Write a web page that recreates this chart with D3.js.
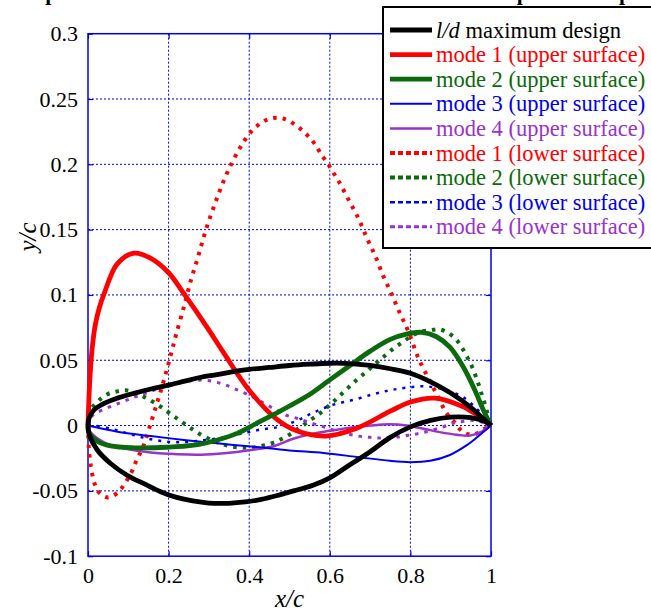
<!DOCTYPE html>
<html>
<head>
<meta charset="utf-8">
<script src="https://cdn.jsdelivr.net/npm/d3@7"></script>
<style>
  body { margin: 0; background: #fff; }
  svg { display: block; font-family: "Liberation Serif", "Times New Roman", Times, serif; }
</style>
</head>
<body>
<svg id="chart" width="651" height="614"></svg>
<script>
'use strict'

/****** DATA ******/

const xTicks = [0, 0.2, 0.4, 0.6, 0.8, 1]
const yTicks = [-0.1, -0.05, 0, 0.05, 0.1, 0.15, 0.2, 0.25, 0.3]
const xTickLabels = ['0', '0.2', '0.4', '0.6', '0.8', '1']
const yTickLabels = ['-0.1', '-0.05', '0', '0.05', '0.1', '0.15', '0.2', '0.25', '0.3']

const ldUpper = [[0,0],[0.003,0.006],[0.015,0.012],[0.04,0.017],[0.073,0.021],[0.114,0.0247],[0.156,0.028],[0.2,0.031],
  [0.24,0.034],[0.28,0.037],[0.32,0.039],[0.36,0.0413],[0.4,0.043],[0.45,0.0445],[0.5,0.046],[0.55,0.047],[0.6,0.0477],
  [0.65,0.0475],[0.7,0.046],[0.75,0.0435],[0.8,0.04],[0.85,0.0335],[0.9,0.025],[0.95,0.014],[0.975,0.007],[1,0]]
const ldLower = [[0,0],[0.003,-0.007],[0.023,-0.0187],[0.056,-0.029],[0.097,-0.038],[0.14,-0.0447],[0.18,-0.0506],
  [0.22,-0.055],[0.26,-0.0577],[0.3,-0.0593],[0.35,-0.0595],[0.39,-0.0585],[0.43,-0.0565],[0.47,-0.0535],[0.51,-0.05],
  [0.56,-0.0455],[0.6,-0.04],[0.64,-0.032],[0.7,-0.02],[0.75,-0.009],[0.8,-0.001],[0.85,0.004],[0.9,0.0065],
  [0.95,0.006],[0.985,0.003],[1,0]]

const mode1Upper = [[0,0],[0.004,0.032],[0.01,0.058],[0.018,0.077],[0.028,0.09],[0.04,0.101],[0.073,0.124],[0.114,0.132],
  [0.156,0.128],[0.2,0.117],[0.238,0.101],[0.296,0.075],[0.336,0.056],[0.4,0.027],[0.468,0.005],[0.518,-0.004],
  [0.59,-0.008],[0.667,-0.002],[0.75,0.011],[0.8,0.018],[0.86,0.021],[0.93,0.0145],[0.97,0.007],[1,0]]
const mode1Lower = [[0,0],[0.002,-0.017],[0.007,-0.031],[0.017,-0.045],[0.03,-0.052],[0.05,-0.055],[0.075,-0.051],
  [0.092,-0.044],[0.106,-0.037],[0.117,-0.029],[0.127,-0.0225],[0.137,-0.016],[0.153,-0.001],[0.167,0.013],[0.181,0.027],
  [0.194,0.041],[0.207,0.056],[0.218,0.069],[0.238,0.091],[0.256,0.112],[0.271,0.127],[0.284,0.141],[0.298,0.155],
  [0.314,0.169],[0.331,0.183],[0.352,0.198],[0.375,0.2115],[0.39,0.219],[0.408,0.226],[0.431,0.232],[0.453,0.235],
  [0.478,0.2355],[0.5,0.233],[0.524,0.228],[0.545,0.222],[0.564,0.215],[0.58,0.207],[0.596,0.2],[0.61,0.193],
  [0.624,0.186],[0.648,0.172],[0.672,0.158],[0.693,0.143],[0.714,0.129],[0.732,0.115],[0.753,0.101],[0.774,0.086],
  [0.795,0.072],[0.82,0.0515],[0.845,0.036],[0.866,0.0235],[0.89,0.0094],[0.911,0.002],[0.931,-0.005],[0.956,-0.007],
  [0.981,-0.003],[1,0]]

const mode2Upper = [[0,0],[0.003,-0.006],[0.023,-0.012],[0.056,-0.0156],[0.114,-0.017],[0.197,-0.0166],[0.263,-0.015],
  [0.321,-0.011],[0.37,-0.006],[0.42,0.002],[0.47,0.01],[0.5,0.015],[0.551,0.024],[0.6,0.035],[0.65,0.046],[0.7,0.057],
  [0.75,0.066],[0.79,0.07],[0.828,0.0714],[0.865,0.068],[0.898,0.06],[0.931,0.045],[0.96,0.027],[0.981,0.012],[1,0]]
const mode2Lower = [[0,0],[0.007,0.012],[0.026,0.019],[0.048,0.024],[0.07,0.026],[0.094,0.027],[0.117,0.025],
  [0.139,0.022],[0.162,0.018],[0.185,0.0135],[0.209,0.008],[0.232,0.003],[0.255,-0.002],[0.277,-0.0064],[0.301,-0.0103],
  [0.323,-0.013],[0.346,-0.0154],[0.368,-0.0166],[0.393,-0.017],[0.416,-0.0166],[0.439,-0.015],[0.461,-0.013],
  [0.484,-0.0097],[0.505,-0.006],[0.526,-0.0013],[0.551,0.004],[0.576,0.0095],[0.599,0.0155],[0.621,0.0217],[0.644,0.0285],
  [0.667,0.035],[0.69,0.041],[0.712,0.047],[0.735,0.053],[0.758,0.059],[0.781,0.064],[0.803,0.0686],[0.826,0.072],
  [0.85,0.073],[0.871,0.0737],[0.895,0.0707],[0.916,0.065],[0.933,0.057],[0.945,0.05],[0.956,0.043],[0.964,0.036],
  [0.972,0.029],[0.979,0.0217],[0.987,0.0145],[0.993,0.007],[1,0]]

const mode3Upper = [[0,0],[0.073,-0.0047],[0.156,-0.008],[0.238,-0.011],[0.321,-0.0136],[0.404,-0.016],[0.5,-0.019],
  [0.584,-0.021],[0.667,-0.024],[0.749,-0.027],[0.8,-0.028],[0.849,-0.027],[0.898,-0.0225],[0.94,-0.015],[0.973,-0.007],[1,0]]
const mode3Lower = [[0,0],[0.015,0],[0.064,-0.003],[0.11,-0.007],[0.156,-0.0105],[0.202,-0.0125],[0.247,-0.0125],
  [0.292,-0.011],[0.338,-0.009],[0.383,-0.006],[0.429,-0.003],[0.474,-0.001],[0.52,0.004],[0.56,0.01],[0.609,0.016],
  [0.658,0.0196],[0.708,0.024],[0.749,0.027],[0.791,0.029],[0.84,0.03],[0.89,0.027],[0.931,0.0217],[0.964,0.013],
  [0.985,0.0056],[1,0]]

const mode4Upper = [[0,0],[0.002,-0.003],[0.023,-0.0097],[0.056,-0.015],[0.097,-0.018],[0.156,-0.0207],[0.222,-0.022],
  [0.28,-0.0223],[0.338,-0.0212],[0.404,-0.0187],[0.462,-0.0156],[0.505,-0.0105],[0.551,-0.0067],[0.6,-0.004],
  [0.65,-0.0016],[0.7,0],[0.749,0.001],[0.791,0],[0.832,-0.0024],[0.873,-0.005],[0.915,-0.007],[0.948,-0.0077],
  [0.977,-0.0047],[1,0]]
const mode4Lower = [[0,0],[0.007,0.0064],[0.019,0.0094],[0.04,0.0125],[0.063,0.0155],[0.085,0.018],[0.108,0.021],
  [0.13,0.0234],[0.153,0.026],[0.176,0.0286],[0.198,0.031],[0.222,0.033],[0.244,0.034],[0.267,0.0347],[0.29,0.0347],
  [0.313,0.0336],[0.335,0.0318],[0.358,0.029],[0.38,0.026],[0.404,0.0227],[0.426,0.019],[0.449,0.015],[0.471,0.0114],
  [0.495,0.0076],[0.518,0.0056],[0.543,0.003],[0.588,-0.0013],[0.608,-0.0034],[0.67,-0.008],[0.7,-0.009],[0.725,-0.0095],
  [0.749,-0.0093],[0.774,-0.0085],[0.795,-0.0074],[0.815,-0.0064],[0.84,-0.0047],[0.881,-0.001],[0.906,0.0018],
  [0.927,0.003],[0.952,0.004],[0.973,0.003],[1,0]]

const legendLabels = ['maximum design', 'mode 1 (upper surface)', 'mode 2 (upper surface)', 'mode 3 (upper surface)',
  'mode 4 (upper surface)', 'mode 1 (lower surface)', 'mode 2 (lower surface)', 'mode 3 (lower surface)',
  'mode 4 (lower surface)']

/****** STYLES ******/

const RED = '#ff0000', GREEN = '#0b6a0b', BLUE = '#0000ee', PURPLE = '#9933cc'
const FONT = '"Liberation Serif", "Times New Roman", Times, serif'

// legend order; the l/d design draws both surfaces
const series = [
  { data: [ldUpper, ldLower], color: '#000', width: 4.8, dash: null },
  { data: [mode1Upper], color: RED, width: 4.8, dash: null },
  { data: [mode2Upper], color: GREEN, width: 4.8, dash: null },
  { data: [mode3Upper], color: BLUE, width: 2, dash: null },
  { data: [mode4Upper], color: PURPLE, width: 2.5, dash: null },
  { data: [mode1Lower], color: RED, width: 4, dash: '3.5,6' },
  { data: [mode2Lower], color: GREEN, width: 4, dash: '3.5,6' },
  { data: [mode3Lower], color: BLUE, width: 2.5, dash: '3,6' },
  { data: [mode4Lower], color: PURPLE, width: 3, dash: '3.5,6' }
]

// dotted curves first, solid ones over them
const drawOrder = [5, 6, 7, 8, 4, 3, 1, 2, 0]

/****** CHART ******/

const svg = d3.select('#chart')
const plot = { left: 88, right: 491, top: 33.7, bottom: 556.2 }

const x = d3.scaleLinear().domain([0, 1]).range([plot.left, plot.right])
const y = d3.scaleLinear().domain([-0.1, 0.3]).range([plot.bottom, plot.top])

svg.append('rect').attr('width', 651).attr('height', 614).attr('fill', '#fff')

// title above, mostly cut off by the top edge as in the picture
svg.append('text')
  .attr('x', 330).attr('y', 0)
  .attr('text-anchor', 'middle')
  .attr('font-weight', 'bold')
  .attr('font-family', FONT)
  .attr('font-size', 22)
  .text('Airfoil shapes of the first four modes of the l/d maximum shape with respect to x/c')

// grid
const grid = svg.append('g')
  .attr('stroke', BLUE)
  .attr('stroke-width', 1)
  .attr('stroke-dasharray', '2,2')
grid.selectAll('.gx')
  .data(xTicks.slice(1, -1))
  .join('line')
    .attr('x1', d => x(d)).attr('x2', d => x(d))
    .attr('y1', plot.top).attr('y2', plot.bottom)
grid.selectAll('.gy')
  .data(yTicks.slice(1, -1))
  .join('line')
    .attr('x1', plot.left).attr('x2', plot.right)
    .attr('y1', d => y(d)).attr('y2', d => y(d))

// axes, ticks pointing inward
const fmtX = d => xTickLabels[xTicks.indexOf(d)]
const fmtY = d => yTickLabels[yTicks.indexOf(d)]

const styleAxis = g => {
  g.attr('font-family', FONT)
  g.select('.domain').remove()
  g.selectAll('.tick line').attr('stroke', BLUE).attr('stroke-width', 1.2)
  g.selectAll('.tick text').attr('fill', '#000').attr('font-size', 22)
}

svg.append('g')
  .attr('transform', `translate(0,${plot.bottom})`)
  .call(d3.axisBottom(x).tickValues(xTicks).tickFormat(fmtX).tickSize(-5).tickPadding(11))
  .call(styleAxis)
svg.append('g')
  .attr('transform', `translate(${plot.left},0)`)
  .call(d3.axisLeft(y).tickValues(yTicks).tickFormat(fmtY).tickSize(-5).tickPadding(10))
  .call(styleAxis)
svg.append('g')
  .attr('transform', `translate(0,${plot.top})`)
  .call(d3.axisTop(x).tickValues(xTicks).tickFormat('').tickSize(-5))
  .call(styleAxis)
svg.append('g')
  .attr('transform', `translate(${plot.right},0)`)
  .call(d3.axisRight(y).tickValues(yTicks).tickFormat('').tickSize(-5))
  .call(styleAxis)

svg.append('rect')
  .attr('x', plot.left).attr('y', plot.top)
  .attr('width', plot.right - plot.left).attr('height', plot.bottom - plot.top)
  .attr('fill', 'none')
  .attr('stroke', BLUE)
  .attr('stroke-width', 1.5)

// curves
const line = d3.line()
  .x(d => x(d[0]))
  .y(d => y(d[1]))
  .curve(d3.curveCatmullRom.alpha(0.5))

const curves = svg.append('g').attr('fill', 'none')
for (let i of drawOrder) {
  const s = series[i]
  for (let d of s.data) {
    curves.append('path')
      .attr('d', line(d))
      .attr('stroke', s.color)
      .attr('stroke-width', s.width)
      .attr('stroke-dasharray', s.dash)
      .attr('stroke-linejoin', 'round')
  }
}

// axis labels
svg.append('text')
  .attr('x', (plot.left + plot.right) / 2).attr('y', 607)
  .attr('text-anchor', 'middle')
  .attr('font-family', FONT)
  .attr('font-style', 'italic')
  .attr('font-size', 25)
  .text('x/c')

svg.append('text')
  .attr('transform', 'translate(36,237) rotate(-90)')
  .attr('text-anchor', 'middle')
  .attr('font-family', FONT)
  .attr('font-style', 'italic')
  .attr('font-size', 25)
  .text('y/c')

// legend (runs off the right edge like the picture)
const legend = svg.append('g')
legend.append('rect')
  .attr('x', 383).attr('y', 7)
  .attr('width', 300).attr('height', 241)
  .attr('fill', '#fff')
  .attr('stroke', '#000')
  .attr('stroke-width', 2)

const rowY = i => 30 + i * 24.6

legend.selectAll('.key')
  .data(series)
  .join('line')
    .attr('x1', 390).attr('x2', 432)
    .attr('y1', (d, i) => rowY(i)).attr('y2', (d, i) => rowY(i))
    .attr('stroke', d => d.color)
    .attr('stroke-width', d => d.width)
    .attr('stroke-dasharray', d => d.dash ? '5,3' : null)

legend.selectAll('.label')
  .data(series)
  .join('text')
    .attr('x', 436)
    .attr('y', (d, i) => rowY(i) + 7.5)
    .attr('font-family', FONT)
    .attr('font-size', 22.5)
    .attr('fill', d => d.color)
    .each(function(d, i) {
      const t = d3.select(this)
      if (i === 0) {
        t.append('tspan').attr('font-style', 'italic').text('l/d')
        t.append('tspan').text(' ' + legendLabels[i])
      } else {
        t.text(legendLabels[i])
      }
    })
</script>
</body>
</html>
